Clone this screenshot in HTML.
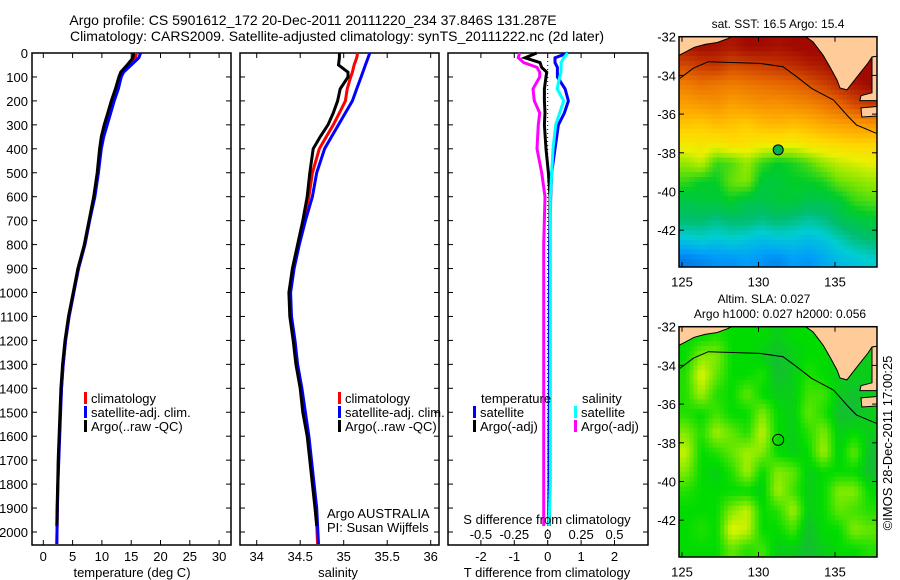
<!DOCTYPE html>
<html><head><meta charset="utf-8"><style>
html,body{margin:0;padding:0;background:#fff;}
svg{display:block;font-family:"Liberation Sans",sans-serif;}
</style></head><body>
<svg id="fig" width="900" height="580" viewBox="0 0 900 580" xmlns="http://www.w3.org/2000/svg">
<defs>
<clipPath id="clipM1"><rect x="679" y="36.7" width="198" height="230.3"/></clipPath>
<clipPath id="clipM2"><rect x="679" y="326.7" width="198" height="230.3"/></clipPath>
</defs>
<text x="313" y="25" font-size="14" text-anchor="middle">Argo profile: CS 5901612_172 20-Dec-2011 20111220_234 37.846S 131.287E</text>
<text x="337" y="41" font-size="14" text-anchor="middle">Climatology: CARS2009. Satellite-adjusted climatology: synTS_20111222.nc (2d later)</text>
<g id="g"></g>
</svg>
<script>
// ---------- data ----------
const depths = [0,20,50,80,100,150,200,250,300,350,400,500,600,700,800,900,1000,1100,1200,1300,1400,1500,1600,1700,1800,1900,2050];
const argoDepths = [0,20,50,80,100,150,200,250,300,350,400,500,600,700,800,900,1000,1100,1200,1300,1400,1500,1600,1700,1800,1900,1975];
const argoT = [15.4,15.3,14.3,13.2,12.9,12.3,11.6,11.0,10.4,9.9,9.6,9.2,8.6,7.8,7.0,5.9,5.1,4.3,3.7,3.3,3.0,2.85,2.7,2.55,2.45,2.35,2.3];
const climT = [15.9,15.7,14.6,13.4,13.0,12.5,11.9,11.3,10.7,10.1,9.8,9.3,8.7,7.9,7.1,6.0,5.2,4.4,3.8,3.4,3.1,2.9,2.75,2.6,2.5,2.4,2.3];
const satT  = [16.6,16.3,15.0,13.7,13.3,12.8,12.1,11.5,10.9,10.3,9.9,9.4,8.8,7.9,7.1,6.0,5.2,4.4,3.8,3.4,3.1,2.95,2.8,2.65,2.5,2.4,2.3];
const argoS = [34.95,34.95,34.94,35.05,35.05,34.96,34.93,34.88,34.82,34.73,34.65,34.61,34.58,34.53,34.47,34.41,34.37,34.38,34.42,34.45,34.50,34.53,34.58,34.61,34.64,34.67,34.69];
const climS = [35.16,35.15,35.12,35.1,35.08,35.04,35.02,34.95,34.88,34.8,34.72,34.64,34.6,34.54,34.48,34.42,34.38,34.39,34.43,34.46,34.51,34.55,34.59,34.62,34.65,34.68,34.7];
const satS  = [35.3,35.28,35.25,35.22,35.2,35.15,35.1,35.02,34.94,34.86,34.78,34.69,34.64,34.56,34.49,34.43,34.39,34.4,34.44,34.47,34.52,34.56,34.6,34.63,34.66,34.69,34.71];
const diffDepths = [0,20,40,60,80,100,150,200,250,300,400,500,600,800,1000,1200,1400,1600,1800,1975];
const tSatDiff  = [0.6,0.22,0.22,0.29,0.29,0.29,0.52,0.62,0.5,0.32,0.22,0.12,0.09,0.06,0.05,0.05,0.05,0.04,0.04,0.03];
const tArgoDiff = [-0.33,-0.68,-0.23,-0.18,-0.03,-0.05,-0.1,-0.1,-0.08,-0.1,-0.05,0.02,0.07,0.06,0.06,0.05,0.06,0.05,0.05,0.05];
const sSatDiff  = [0.15,0.12,0.1,0.1,0.1,0.09,0.07,0.12,0.09,0.06,0.04,0.03,0.02,0.02,0.02,0.02,0.02,0.02,0.02,0.01];
const sArgoDiff = [-0.21,-0.22,-0.18,-0.08,-0.06,-0.06,-0.11,-0.1,-0.06,-0.07,-0.08,-0.045,-0.02,-0.03,-0.03,-0.03,-0.03,-0.03,-0.03,-0.03];
const depthTicks = [0,100,200,300,400,500,600,700,800,900,1000,1100,1200,1300,1400,1500,1600,1700,1800,1900,2000];
const tempTicks = [0,5,10,15,20,25,30];
const salTicks = [34,34.5,35,35.5,36];
const tDiffTicks = [-2,-1,0,1,2];
const sDiffTicks = [-0.5,-0.25,0,0.25,0.5];
const sDiffLabels = ['-0.5','-0.25','0','0.25','0.5'];
const latTicks = [-32,-34,-36,-38,-40,-42];
const lonTicks = [125,130,135];
const gridLon0 = 124.75;
const gridLat0 = -32;
const sstGrid = [
[19.3,19.5,19.4,19.3,19.5,19.5,19.4,19.5,19.6,19.6,19.6,19.6,19.6],
[18.6,18.8,18.9,18.6,18.7,18.8,18.9,19.0,19.2,19.3,19.5,19.5,19.6],
[17.8,18.0,17.9,17.8,17.9,18.0,18.1,18.2,18.4,18.7,19.0,19.3,19.5],
[17.3,17.4,17.5,17.3,17.4,17.5,17.5,17.6,17.7,17.9,18.2,18.6,18.8],
[16.8,16.7,16.9,16.8,16.7,16.9,17.0,16.9,17.0,17.2,17.3,17.4,17.5],
[16.2,16.3,16.2,16.4,16.3,16.2,16.2,16.1,16.3,16.4,16.5,16.6,16.6],
[15.6,15.8,15.2,15.3,15.6,15.2,15.0,15.1,15.3,15.6,15.8,15.9,16.0],
[15.2,15.0,15.0,15.4,15.5,14.9,14.9,15.0,15.0,15.1,15.4,15.5,15.6],
[14.8,14.9,14.9,15.0,14.8,14.8,14.9,14.9,14.8,14.8,14.9,15.2,15.3],
[14.6,14.6,14.5,14.6,14.6,14.5,14.6,14.5,14.4,14.5,14.7,14.8,14.9],
[14.1,14.2,14.1,14.2,14.1,14.0,14.1,14.1,14.0,14.1,14.3,14.5,14.6],
[13.4,13.5,13.6,13.6,13.7,13.6,13.5,13.7,13.6,13.8,14.0,14.1,14.2]];
const slaGrid = [
[0.2,0.2,0.3,0.2,0.2,0.2,0.1,0.2,0.2,0.2,0.1,0.1,0.2],
[0.2,0.6,0.6,0.2,0.2,0.1,0.0,0.1,0.2,0.2,0.1,0.1,0.1],
[0.3,0.9,0.5,0.2,0.2,0.3,0.0,0.1,0.3,0.2,0.1,0.1,0.1],
[0.3,0.7,0.3,0.2,0.5,0.2,0.1,0.1,0.4,0.4,0.1,0.0,0.1],
[0.3,0.2,0.4,0.2,0.2,0.6,0.2,0.1,0.5,0.3,0.0,0.0,0.1],
[0.6,0.3,0.7,0.5,0.3,0.8,0.2,0.1,0.3,0.6,0.1,0.2,0.1],
[0.8,0.2,0.3,0.5,0.7,0.6,0.2,0.1,0.2,0.7,0.1,0.5,0.0],
[0.6,0.2,0.1,0.3,0.7,0.2,0.6,0.5,0.1,0.2,0.2,0.2,0.0],
[0.3,0.2,0.2,0.2,0.2,0.1,0.7,0.4,0.1,0.2,0.6,0.6,0.2],
[0.2,0.2,0.2,0.6,0.8,0.2,0.3,0.7,0.1,0.2,0.5,0.4,0.3],
[0.2,0.3,0.2,0.9,0.8,0.2,0.2,0.4,0.0,0.2,0.2,0.6,0.5],
[0.2,0.2,0.2,0.5,0.3,0.4,0.1,0.1,0.0,0.1,0.2,0.2,0.3]];
const argoLon = 131.287;
const argoLat = -37.846;
const landWest = [[124.7,-31.9],[124.7,-33.0],[125.2,-32.8],[125.8,-32.55],[126.5,-32.4],[127.3,-32.3],[128,-32.1],[128.5,-31.9]];
const landEast = [[132.91,-31.9],[133.56,-32.27],[134.22,-32.95],[134.67,-33.57],[135.13,-34.24],[135.33,-34.65],[135.78,-34.75],[136.44,-34.08],[137.16,-33.36],[137.42,-33.05],[137.8,-33.0],[137.8,-31.9]];
const landYorke = [[137.42,-33.05],[137.8,-33.0],[137.8,-35.3],[136.63,-35.3],[136.7,-35.05],[137.42,-34.9]];
const landIsland = [[136.7,-35.68],[137.8,-35.6],[137.8,-36.1],[136.75,-36.15]];
const isobath = [[124.87,-34.15],[125.74,-33.63],[126.72,-33.29],[130.1,-33.38],[131.6,-33.55],[132.5,-34.07],[133.48,-34.67],[134.9,-35.27],[135.87,-36.13],[136.4,-36.56],[137.7,-36.99]];

// ---------- helpers ----------
const NS = 'http://www.w3.org/2000/svg';
const root = document.getElementById('g');
function mk(tag, attrs, parent){const e=document.createElementNS(NS,tag);for(const k in attrs)e.setAttribute(k,attrs[k]);(parent||root).appendChild(e);return e;}
function txt(x,y,s,size,anchor,parent){const e=mk('text',{x:x,y:y,'font-size':size,'text-anchor':anchor||'middle'},parent);e.textContent=s;return e;}
const yD = d => 53 + d*0.2395;
const xT = t => 43.3 + t*5.86;
const xS = s => 256.7 + (s-34)*87;
const xdT = t => 547.7 + t*33.4;
const xdS = s => 547.7 + s*133.6;
const lonX = l => 682 + (l-125)*15.3;
const latY = (l,top) => top + (-32-l)*19.35;

// ---------- profile panels ----------
const panels = [
 {x:32,w:199,name:'temperature-panel'},
 {x:240,w:199,name:'salinity-panel'},
 {x:448,w:200,name:'difference-panel'}];
const TOP=53, BOT=545;
panels.forEach(p=>{
  const r=mk('rect',{x:p.x,y:TOP,width:p.w,height:BOT-TOP,fill:'none',stroke:'#000','stroke-width':1.5});
  
  
  depthTicks.forEach(d=>{
    mk('line',{x1:p.x,x2:p.x+5,y1:yD(d),y2:yD(d),stroke:'#000'});
    mk('line',{x1:p.x+p.w-5,x2:p.x+p.w,y1:yD(d),y2:yD(d),stroke:'#000'});
  });
});
depthTicks.forEach(d=>{
  const t=txt(28,yD(d)+5,String(d),13,'end');
  
  
});
function xticks(vals,fx,labels,ylab){
  vals.forEach((v,i)=>{
    const x=fx(v);
    mk('line',{x1:x,x2:x,y1:BOT-5,y2:BOT,stroke:'#000'});
    mk('line',{x1:x,x2:x,y1:TOP,y2:TOP+5,stroke:'#000'});
    const t=txt(x,ylab,labels?labels[i]:String(v),13,'middle');
    
    
  });
}
xticks(tempTicks,xT,null,561);
xticks(salTicks,xS,null,561);
xticks(tDiffTicks,xdT,null,561);
sDiffTicks.forEach((v,i)=>{
  const t=txt(xdS(v),539,sDiffLabels[i],13,'middle');
  
  
});
function line(xs,ds,fx,color,name,w){
  const pts=xs.map((v,i)=>fx(v).toFixed(1)+','+yD(ds[i]).toFixed(1)).join(' ');
  const e=mk('polyline',{points:pts,fill:'none',stroke:color,'stroke-width':w||3,'stroke-linejoin':'miter'});
  
  
}
line(climT,depths,xT,'#ff0000','temp-climatology-line');
line(satT,depths,xT,'#0000ff','temp-satellite-line');
line(argoT,argoDepths,xT,'#000000','temp-argo-line');
line(climS,depths,xS,'#ff0000','sal-climatology-line');
line(satS,depths,xS,'#0000ff','sal-satellite-line');
line(argoS,argoDepths,xS,'#000000','sal-argo-line');
const zl=mk('line',{x1:547.7,x2:547.7,y1:TOP,y2:BOT,stroke:'#000','stroke-dasharray':'1,3'});


line(sArgoDiff,diffDepths,xdS,'#ff00ff','sal-argo-diff-line');
line(tArgoDiff,diffDepths,xdT,'#000000','temp-argo-diff-line');
line(tSatDiff,diffDepths,xdT,'#0000ff','temp-satellite-diff-line');
line(sSatDiff,diffDepths,xdS,'#00ffff','sal-satellite-diff-line');

// legends
function legend(x,y,color,label,name){
  const b=mk('rect',{x:x,y:y-11,width:3,height:12,fill:color});
  
  
  const t=txt(x+7,y,label,13,'start');
  
  
}
[[84,'temp'],[338,'sal']].forEach(([x,n])=>{
  legend(x,403,'#ff0000','climatology',n+'-legend-climatology');
  legend(x,417,'#0000ff','satellite-adj. clim.',n+'-legend-satellite');
  legend(x,431,'#000000','Argo(..raw -QC)',n+'-legend-argo');
});
let t0=txt(481,403,'temperature',13,'start');


t0=txt(582,403,'salinity',13,'start');


legend(473,417,'#0000ff','satellite','diff-legend-temp-satellite');
legend(473,431,'#000000','Argo(-adj)','diff-legend-temp-argo');
legend(574,417,'#00ffff','satellite','diff-legend-sal-satellite');
legend(574,431,'#ff00ff','Argo(-adj)','diff-legend-sal-argo');

[[132,577,'temperature (deg C)','temperature-axis-title','middle'],[338,577,'salinity','salinity-axis-title','middle'],
 [547,577,'T difference from climatology','t-diff-axis-title','middle'],[547,524,'S difference from climatology','s-diff-axis-title','middle'],
 [327,518,'Argo AUSTRALIA','argo-country-label','start'],[327,532,'PI: Susan Wijffels','pi-label','start']].forEach(a=>{
  const t=txt(a[0],a[1],a[2],13,a[4]);
  
  
});

// ---------- maps ----------
const stops=[[13.0,[0,80,220]],[13.7,[0,160,250]],[14.2,[0,205,210]],[14.6,[0,190,110]],[15.0,[0,205,40]],[15.5,[130,230,0]],[16.0,[235,240,0]],[16.5,[255,215,0]],[17.0,[255,180,0]],[17.6,[245,140,0]],[18.3,[225,95,0]],[19.0,[190,45,0]],[19.5,[160,10,0]]];
function sstColor(v){
  if(v<=stops[0][0])return 'rgb('+stops[0][1]+')';
  for(let i=1;i<stops.length;i++){if(v<=stops[i][0]){const a=stops[i-1],b=stops[i],f=(v-a[0])/(b[0]-a[0]);return 'rgb('+a[1].map((c,k)=>Math.round(c+(b[1][k]-c)*f)).join(',')+')';}}
  return 'rgb('+stops[stops.length-1][1]+')';
}
function slaColor(v){
  const lo=[20,190,50],mid=[0,220,0],hi=[230,245,0];
  let c; if(v<0.2){const f=Math.max(0,v)/0.2;c=lo.map((x,k)=>x+(mid[k]-x)*f);} else {const f=(v-0.2)/0.7;c=mid.map((x,k)=>x+(hi[k]-x)*Math.min(1,f));}
  return 'rgb('+c.map(Math.round).join(',')+')';
}
function sample(grid,r,c){
  const R=grid.length,C=grid[0].length;
  r=Math.max(0,Math.min(R-1,r)); c=Math.max(0,Math.min(C-1,c));
  const r0=Math.floor(r),c0=Math.floor(c),r1=Math.min(R-1,r0+1),c1=Math.min(C-1,c0+1),fr=r-r0,fc=c-c0;
  return grid[r0][c0]*(1-fr)*(1-fc)+grid[r0][c1]*(1-fr)*fc+grid[r1][c0]*fr*(1-fc)+grid[r1][c1]*fr*fc;
}
const SUB=4;
function drawMap(top,grid,colorFn,clip,name){
  const g=mk('g',{'clip-path':'url(#'+clip+')'});
  
  
  const R=grid.length,C=grid[0].length;
  for(let i=0;i<R*SUB;i++)for(let j=0;j<C*SUB;j++){
    const rr=(i+0.5)/SUB-0.5, cc=(j+0.5)/SUB-0.5;
    const v=sample(grid,rr,cc);
    const x0=lonX(gridLon0+j/SUB), y0=latY(gridLat0-i/SUB,top);
    const cell=mk('rect',{x:x0.toFixed(1),y:y0.toFixed(1),width:(15.3/SUB+0.5).toFixed(2),height:(19.35/SUB+0.5).toFixed(2),fill:colorFn(v)},g);
    
    
  }
  [landWest,landEast,landYorke,landIsland].forEach(poly=>{
    const p=mk('polygon',{points:poly.map(q=>lonX(q[0]).toFixed(1)+','+latY(q[1],top).toFixed(1)).join(' '),fill:'#ffcc99',stroke:'#000','stroke-width':1},g);
    
    
  });
  const iso=mk('polyline',{points:isobath.map(q=>lonX(q[0]).toFixed(1)+','+latY(q[1],top).toFixed(1)).join(' '),fill:'none',stroke:'#000','stroke-width':1},g);
  
  
  const fr=mk('rect',{x:679,y:top,width:198,height:230.3,fill:'none',stroke:'#000','stroke-width':1.5});
  
  
  latTicks.forEach(l=>{
    const y=latY(l,top);
    mk('line',{x1:679,x2:684,y1:y,y2:y,stroke:'#000'});
    mk('line',{x1:872,x2:877,y1:y,y2:y,stroke:'#000'});
    const t=txt(676,y+5,String(l),13,'end');
    
    
  });
  lonTicks.forEach(l=>{
    const x=lonX(l);
    mk('line',{x1:x,x2:x,y1:top,y2:top+5,stroke:'#000'});
    mk('line',{x1:x,x2:x,y1:top+225.3,y2:top+230.3,stroke:'#000'});
    const t=txt(x,top+250,String(l),13,'middle');
    
    
  });
}
drawMap(36.7,sstGrid,sstColor,'clipM1','sst-map');
drawMap(326.7,slaGrid,slaColor,'clipM2','sla-map');
const c1=mk('circle',{cx:lonX(argoLon),cy:latY(argoLat,36.7),r:5,fill:'#00b050',stroke:'#000'});


const c2=mk('circle',{cx:lonX(argoLon),cy:latY(argoLat,326.7),r:5.5,fill:'none',stroke:'#000'});


[[778,28,'sat. SST: 16.5 Argo: 15.4','sst-map-title'],[764,303,'Altim. SLA: 0.027','sla-map-title'],[780,318,'Argo h1000: 0.027 h2000: 0.056','sla-map-subtitle']].forEach(a=>{
  const t=txt(a[0],a[1],a[2],12,'middle');
  
  
});
const cp=txt(0,0,'\u00a9IMOS 28-Dec-2011 17:00:25',13,'middle');
cp.setAttribute('transform','translate(892,443) rotate(-90)');


</script>
</body></html>
